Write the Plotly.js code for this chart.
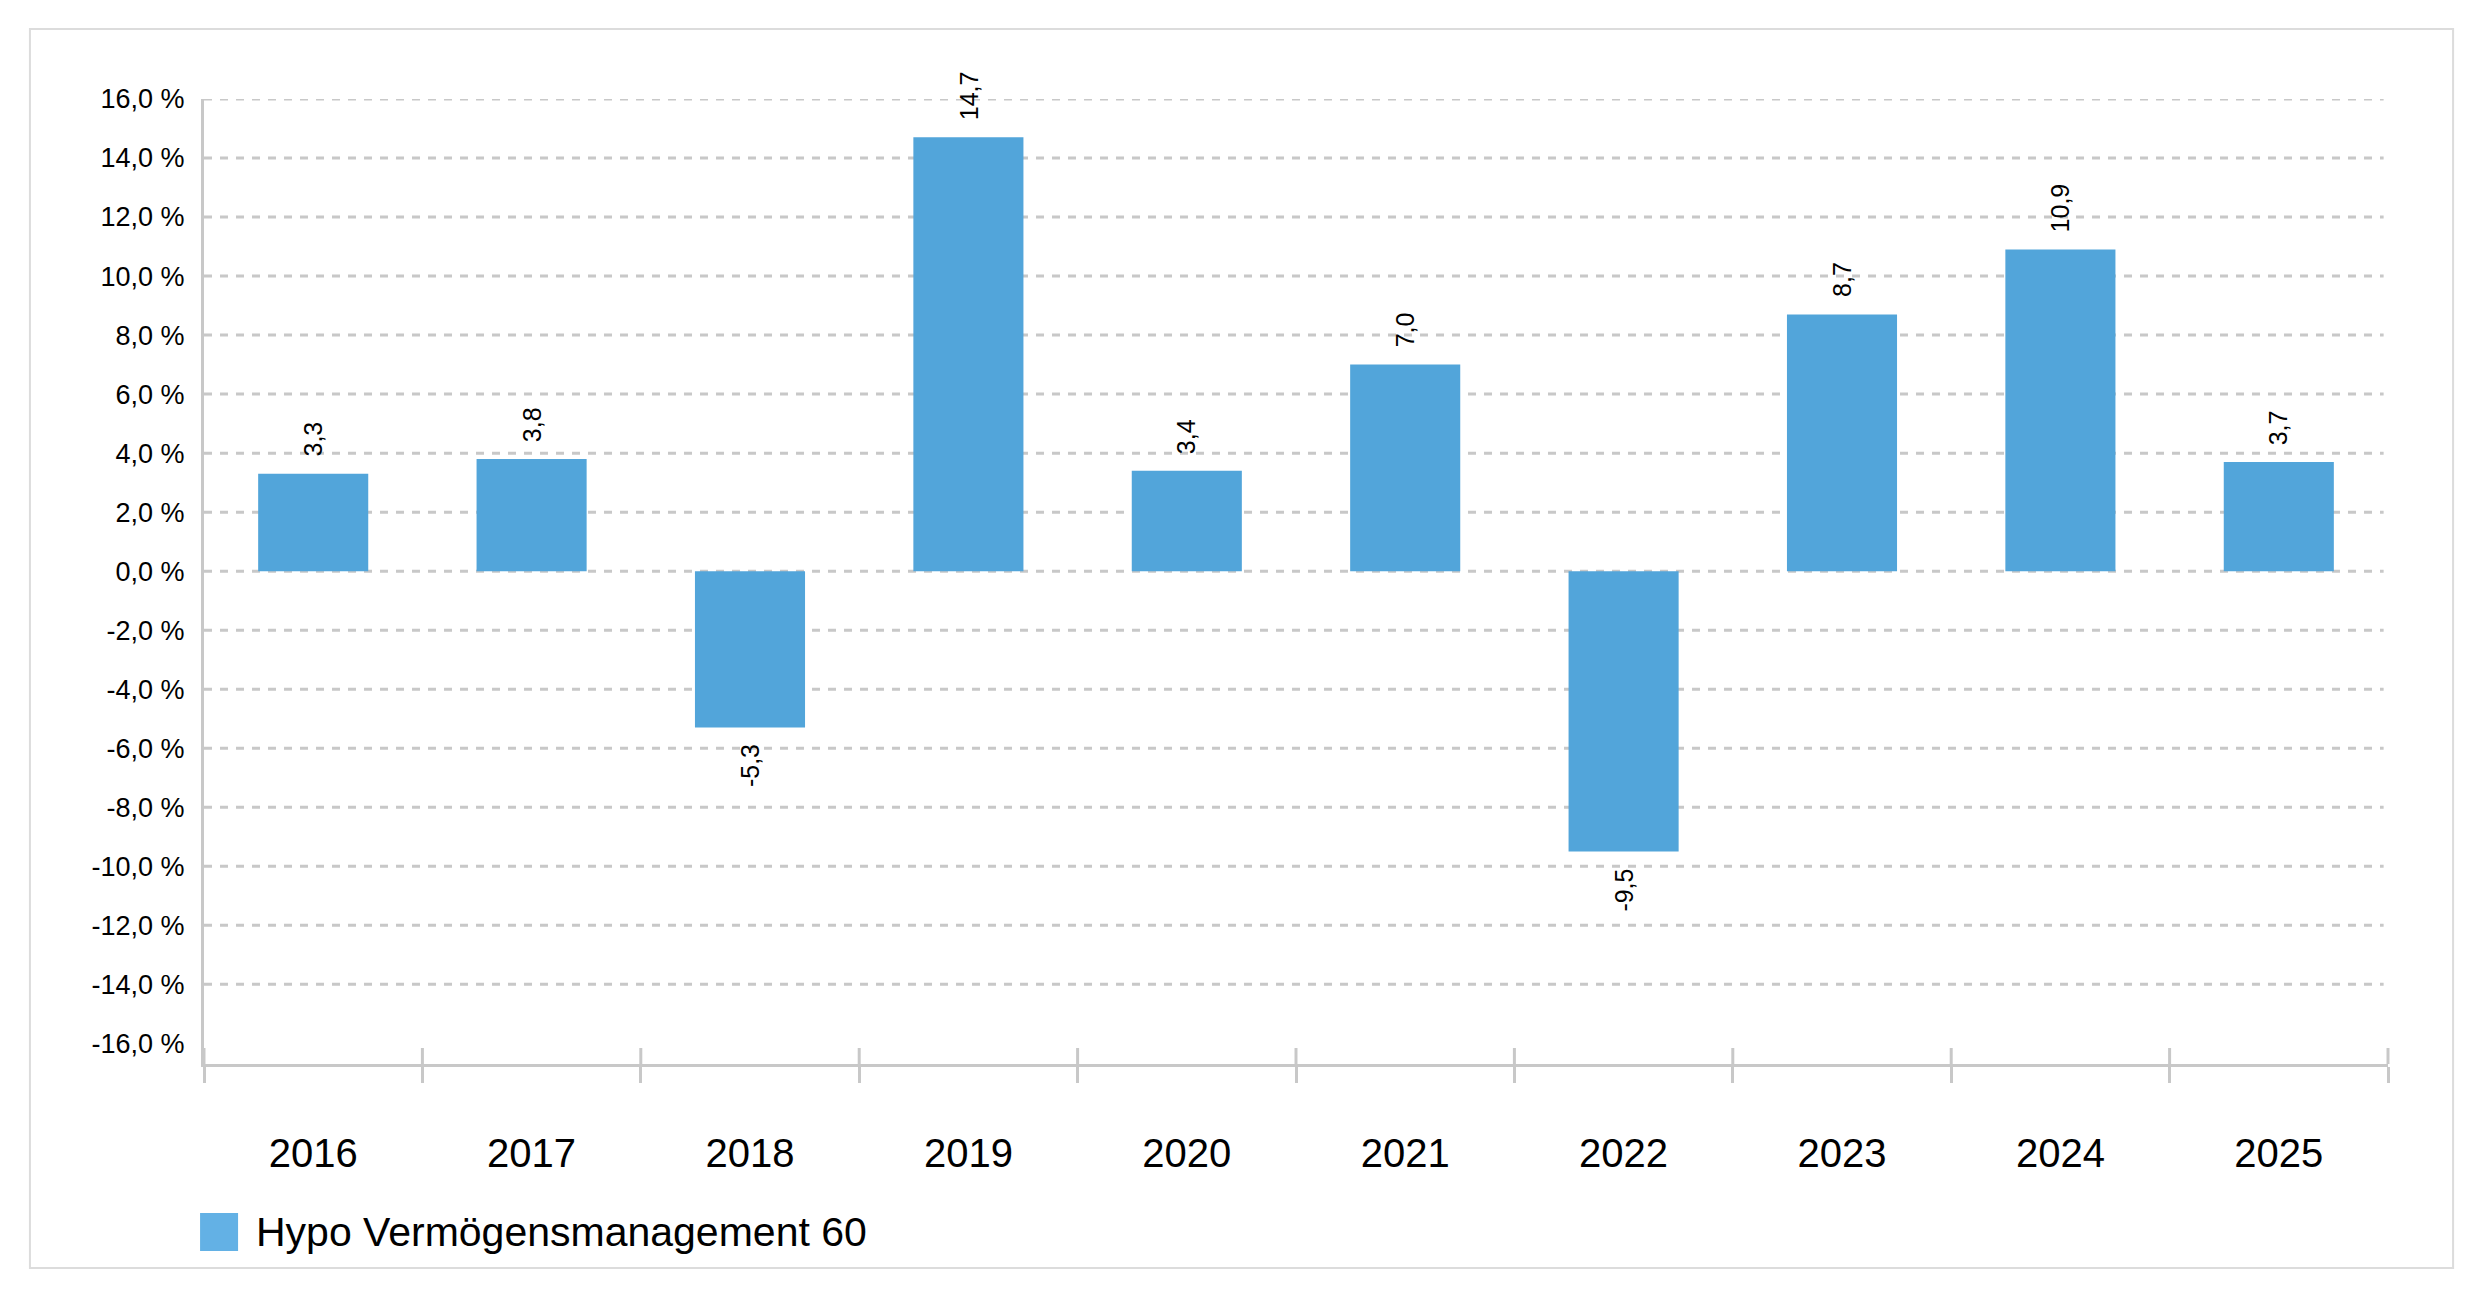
<!DOCTYPE html>
<html>
<head>
<meta charset="utf-8">
<script src="https://cdn.plot.ly/plotly-3.0.1.min.js"></script>
<style>html,body{margin:0;padding:0;background:#fff;}#chart{width:2480px;height:1299px;}</style>
</head>
<body>
<div id="chart"></div>
<script>
// ---- data ----
const years = ["2016", "2017", "2018", "2019", "2020", "2021", "2022", "2023", "2024", "2025"];
const returns = [3.3, 3.8, -5.3, 14.7, 3.4, 7.0, -9.5, 8.7, 10.9, 3.7];
const seriesName = "Hypo Vermögensmanagement 60";
const yTickVals = [16, 14, 12, 10, 8, 6, 4, 2, 0, -2, -4, -6, -8, -10, -12, -14, -16];
const yTickText = ["16,0 %", "14,0 %", "12,0 %", "10,0 %", "8,0 %", "6,0 %", "4,0 %", "2,0 %", "0,0 %",
  "-2,0 %", "-4,0 %", "-6,0 %", "-8,0 %", "-10,0 %", "-12,0 %", "-14,0 %", "-16,0 %"];
const gridVals = [16, 14, 12, 10, 8, 6, 4, 2, 0, -2, -4, -6, -8, -10, -12, -14];

// ---- styles ----
const FONT = '"Liberation Sans", Arial, sans-serif';
const BAR = '#52a5da';
const AXIS = '#c8c8c8';

const fmt = v => v.toFixed(1).replace('.', ',');

const shapes = [];
// frame
shapes.push({type: 'rect', xref: 'paper', yref: 'paper', x0: -0.0797, x1: 1.0298, y0: -0.2114, y1: 1.0725,
  line: {color: '#dcdcdc', width: 2}, fillcolor: 'rgba(0,0,0,0)', layer: 'below'});
// dashed gridlines
gridVals.forEach(v => shapes.push({type: 'line', xref: 'paper', yref: 'y', x0: 0, x1: 0.998, y0: v, y1: v,
  line: {color: AXIS, width: 3, dash: '8px,8px'}, layer: 'below'}));
// inside part of category boundary ticks
for (let i = 0; i <= years.length; i++) {
  shapes.push({type: 'line', xref: 'paper', yref: 'paper', x0: i / years.length, x1: i / years.length,
    ysizemode: 'pixel', yanchor: 0, y0: 0, y1: 16, line: {color: AXIS, width: 3}});
}
// legend swatch
shapes.push({type: 'rect', xref: 'paper', yref: 'paper', x0: -0.0018, x1: 0.0156, y0: -0.1938, y1: -0.1544,
  line: {width: 0}, fillcolor: '#63b1e5'});

// value labels (category axis: annotation x is the category's serial number)
const annotations = returns.map((v, i) => ({
  x: years.indexOf(years[i]), y: v, xref: 'x', yref: 'y', text: fmt(v), showarrow: false, textangle: -90,
  yanchor: v >= 0 ? 'bottom' : 'top', yshift: v >= 0 ? 15 : -15,
  font: {family: FONT, size: 25, color: '#000'}
}));
annotations.push({x: 0.0229, y: -0.1741, xref: 'paper', yref: 'paper', xanchor: 'left', yanchor: 'middle',
  text: seriesName, showarrow: false, font: {family: FONT, size: 41, color: '#000'}});

const trace = {type: 'bar', x: years, y: returns, name: seriesName, marker: {color: BAR}, hoverinfo: 'none'};

const layout = {
  width: 2480, height: 1299, autosize: false,
  margin: {l: 204, r: 92, t: 99, b: 235, pad: 0},
  paper_bgcolor: '#fff', plot_bgcolor: '#fff',
  showlegend: false, bargap: 0.496,
  font: {family: FONT, color: '#000'},
  xaxis: {type: 'category', range: [-0.5, years.length - 0.5], autorange: false,
    tickson: 'boundaries', ticks: 'outside', ticklen: 16, tickwidth: 3, tickcolor: AXIS,
    showline: true, linecolor: AXIS, linewidth: 3, showgrid: false, zeroline: false, tickangle: 0,
    tickfont: {family: FONT, size: 40, color: '#000'}, ticklabelstandoff: 52, fixedrange: true},
  yaxis: {range: [-16.7, 16], autorange: false, tickmode: 'array', tickvals: yTickVals, ticktext: yTickText, ticks: '',
    showline: true, linecolor: AXIS, linewidth: 3, showgrid: false, zeroline: false,
    tickfont: {family: FONT, size: 27, color: '#000'}, ticklabelstandoff: 11, fixedrange: true},
  shapes: shapes, annotations: annotations
};

Plotly.newPlot('chart', [trace], layout, {displayModeBar: false, staticPlot: true});
</script>
</body>
</html>
